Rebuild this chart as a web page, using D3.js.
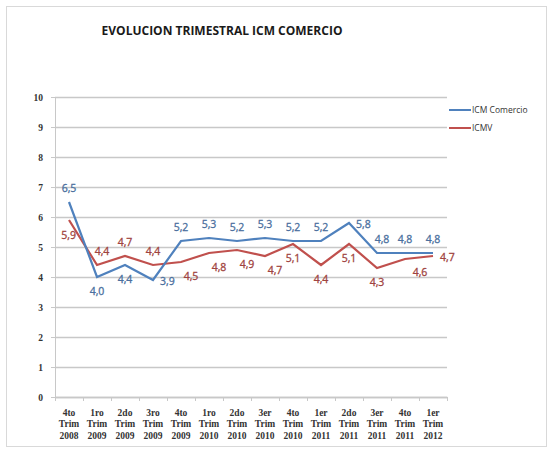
<!DOCTYPE html>
<html>
<head>
<meta charset="utf-8">
<script src="https://cdn.jsdelivr.net/npm/d3@7"></script>
<style>
  body { margin: 0; background: #fff; }
  svg { display: block; font-family: "Open Sans", "Liberation Sans", sans-serif; }
</style>
</head>
<body>
<svg width="550" height="451"></svg>
<script>
// quarters on the x axis (3 lines each)
const quarters = [
  ["4to", "Trim", "2008"], ["1ro", "Trim", "2009"], ["2do", "Trim", "2009"], ["3ro", "Trim", "2009"],
  ["4to", "Trim", "2009"], ["1ro", "Trim", "2010"], ["2do", "Trim", "2010"], ["3er", "Trim", "2010"],
  ["4to", "Trim", "2010"], ["1er", "Trim", "2011"], ["2do", "Trim", "2011"], ["3er", "Trim", "2011"],
  ["4to", "Trim", "2011"], ["1er", "Trim", "2012"]
];
const icmComercio = [6.5, 4.0, 4.4, 3.9, 5.2, 5.3, 5.2, 5.3, 5.2, 5.2, 5.8, 4.8, 4.8, 4.8];
const icmv = [5.9, 4.4, 4.7, 4.4, 4.5, 4.8, 4.9, 4.7, 5.1, 4.4, 5.1, 4.3, 4.6, 4.7];
const yTicks = [0, 1, 2, 3, 4, 5, 6, 7, 8, 9, 10];

// where each data label sits relative to its point
const blueLabelPos = ["above", "below", "below", "right", "above", "above", "above", "above", "above", "above", "right", "aboveR", "above", "above"];
const redLabelPos = ["leftBelow", "aboveR", "above", "above", "belowR", "belowR", "belowR", "belowR", "below", "below", "below", "below", "belowRR", "right"];

const svg = d3.select("svg"),
    margin = { top: 97, left: 55 },
    width = 392,
    height = 300;

// outer frame
svg.append("rect")
    .attr("x", 6.5).attr("y", 6.5)
    .attr("width", 540).attr("height", 440)
    .attr("fill", "#fff")
    .attr("stroke", "#d9d9d9");

svg.append("text")
    .attr("x", 222).attr("y", 35)
    .attr("text-anchor", "middle")
    .attr("font-size", "12px")
    .attr("font-weight", "bold")
    .attr("fill", "#1a1a1a")
    .text("EVOLUCION TRIMESTRAL ICM COMERCIO");

const g = svg.append("g").attr("transform", "translate(" + margin.left + "," + margin.top + ")");

const x = d3.scaleBand()
    .domain(d3.range(quarters.length))
    .range([0, width]);

const y = d3.scaleLinear()
    .domain([0, 10])
    .range([height, 0]);

// gridlines
g.append("g")
    .selectAll("line")
    .data(yTicks)
    .join("line")
    .attr("x1", 0).attr("x2", width)
    .attr("y1", d => y(d) + 0.5).attr("y2", d => y(d) + 0.5)
    .attr("stroke", "#c8c8c8")
    .attr("stroke-width", 1.3);

// y axis
const yAxis = g.append("g")
    .call(d3.axisLeft(y).tickValues(yTicks).tickSize(4).tickPadding(8));
yAxis.select(".domain").attr("stroke", "#c8c8c8");
yAxis.selectAll(".tick line").attr("stroke", "#c8c8c8");
yAxis.selectAll("text")
    .attr("font-family", "'Liberation Serif', serif")
    .attr("font-size", "9.5px")
    .attr("font-weight", "bold")
    .attr("fill", "#333");

// x axis
const xAxis = g.append("g")
    .attr("transform", "translate(0," + height + ")")
    .call(d3.axisBottom(x).tickSize(0).tickFormat(""));
xAxis.select(".domain").attr("stroke", "#c8c8c8").attr("stroke-width", 1.3);
g.append("g")
    .selectAll("line")
    .data(d3.range(quarters.length + 1))
    .join("line")
    .attr("x1", d => d * x.step() + 0.5).attr("x2", d => d * x.step() + 0.5)
    .attr("y1", height).attr("y2", height + 4)
    .attr("stroke", "#c8c8c8");

const xLabels = g.append("g")
    .selectAll("text")
    .data(quarters)
    .join("text")
    .attr("x", (d, i) => x(i) + x.bandwidth() / 2)
    .attr("y", height + 19)
    .attr("text-anchor", "middle")
    .attr("font-family", "'Liberation Serif', serif")
    .attr("font-size", "9.5px")
    .attr("font-weight", "bold")
    .attr("fill", "#333");
xLabels.each(function (d) {
    d3.select(this).selectAll("tspan")
        .data(d)
        .join("tspan")
        .attr("x", d3.select(this).attr("x"))
        .attr("dy", (t, k) => k === 0 ? 0 : "1.2em")
        .text(t => t);
});

const cx = i => x(i) + x.bandwidth() / 2;

const line = d3.line()
    .x((d, i) => cx(i))
    .y(d => y(d));

const series = [
    { name: "ICMV", values: icmv, color: "#c0504d", text: "#a04340", pos: redLabelPos },
    { name: "ICM Comercio", values: icmComercio, color: "#4f81bd", text: "#4a6f9e", pos: blueLabelPos }
];

const offsets = {
    above: [0, -10, "middle"],
    aboveR: [5, -10, "middle"],
    below: [0, 18, "middle"],
    belowR: [10, 18, "middle"],
    belowRR: [15, 17, "middle"],
    right: [7, 5, "start"],
    leftBelow: [7, 19, "end"]
};

series.forEach(s => {
    g.append("path")
        .datum(s.values)
        .attr("d", line)
        .attr("fill", "none")
        .attr("stroke", s.color)
        .attr("stroke-width", 2.2);

    g.append("g")
        .selectAll("text")
        .data(s.values)
        .join("text")
        .attr("x", (d, i) => cx(i) + offsets[s.pos[i]][0])
        .attr("y", (d, i) => y(d) + offsets[s.pos[i]][1])
        .attr("text-anchor", (d, i) => offsets[s.pos[i]][2])
        .attr("font-size", "10.5px")
        .attr("fill", s.text)
        .attr("stroke", s.text)
        .attr("stroke-width", 0.3)
        .text(d => d3.format(".1f")(d).replace(".", ","));
});

// legend
const legend = svg.append("g").attr("transform", "translate(449,110)");
[series[1], series[0]].forEach((s, k) => {
    legend.append("line")
        .attr("x1", 0).attr("x2", 22)
        .attr("y1", k * 18).attr("y2", k * 18)
        .attr("stroke", s.color)
        .attr("stroke-width", 2);
    legend.append("text")
        .attr("x", 23).attr("y", k * 18 + 3)
        .attr("font-size", "8.5px")
        .attr("fill", "#333")
        .text(s.name);
});
</script>
</body>
</html>
